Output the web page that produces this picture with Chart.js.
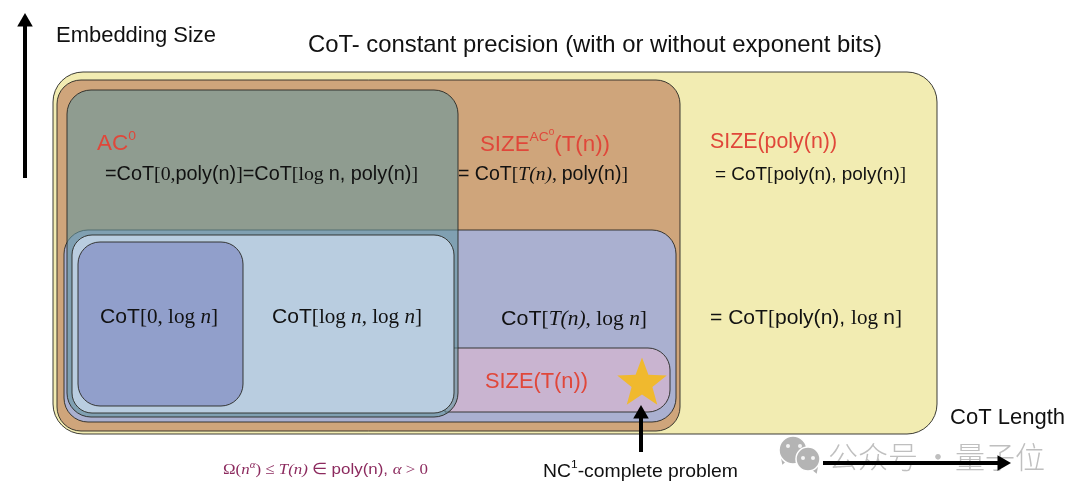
<!DOCTYPE html>
<html><head><meta charset="utf-8">
<script src="https://cdn.jsdelivr.net/npm/chart.js@4"></script>
<style>html,body{margin:0;padding:0;background:#fff}canvas{display:block}</style>
</head><body><canvas id="c" width="1080" height="499"></canvas>
<script>
// Regions (drawn back to front): left, top, right, bottom
const regionNames  = ['SIZE(poly(n))','SIZE^AC0(T(n))','CoT[T(n),log n]','SIZE(T(n))','AC0','CoT[log n,log n]','CoT[0,log n]'];
const regionLeft   = [53, 57, 64, 445, 67, 72, 78];
const regionTop    = [72, 80, 230, 348, 90, 235, 242];
const regionRight  = [937, 680, 676, 670, 458, 454, 243];
const regionBottom = [434, 431, 422, 412, 417, 413, 406];
const regionRadius = [30, 24, 24, [0,22,22,0], 24, 20, 22];
const regionFill   = ['#f2ecb2','#cfa57b','#aab0d0','#c9b4d0','rgba(100,150,158,0.6)','#b9cde0','#919fcb'];

// Text labels: each run is [text, style]; s sans, r serif, i italic serif, u superscript sans
const labelRuns = [
  [['Embedding Size','s']],
  [['CoT- constant precision (with or without exponent bits)','s']],
  [['AC','s'],['0','u']],
  [['=CoT','s'],['[0,','r'],['poly(n)','s'],[']','r'],['=CoT','s'],['[log ','r'],['n, poly(n)','s'],[']','r']],
  [['SIZE','s'],['AC','u'],['0','v'],['(T(n))','s']],
  [['= CoT','s'],['[','r'],['T(n)','i'],[', ','r'],['poly(n)','s'],[']','r']],
  [['SIZE(poly(n))','s']],
  [['= CoT','s'],['[','r'],['poly(n), poly(n)','s'],[']','r']],
  [['CoT','s'],['[0, log ','r'],['n','i'],[']','r']],
  [['CoT','s'],['[log ','r'],['n','i'],[', log ','r'],['n','i'],[']','r']],
  [['CoT','s'],['[','r'],['T(n)','i'],[', log ','r'],['n','i'],[']','r']],
  [['= CoT','s'],['[','r'],['poly(n), ','s'],['log ','r'],['n','s'],[']','r']],
  [['SIZE(T(n))','s']],
  [['CoT Length','s']],
  [['NC','s'],['1','u'],['-complete problem','s']],
  [['Ω(','r'],['n','i'],['α','w'],[') ≤ ','r'],['T(n)','i'],[' ∈ ','r'],['poly(n), ','s'],['α','i'],[' > 0','r']]
];
const labelLeft  = [56,308,97,105,480,458,710,715,100,272,501,710,485,950,543,223];
const labelRight = [216,882,136,418,610,628,837,906,218,422,647,902,588,1065,738,428];
const labelBase  = [42,52,150,180,151,180,148,180,323,323,325,324,388,424,477,474];
const labelSize  = [22,24,22,19.5,22,19.5,21.5,19,21,21,21,21,22,22,19,15.5];
const labelColor = ['#111','#111','#e0473a','#111','#e0473a','#111','#e0473a','#111','#111','#111','#111','#111','#e0473a','#111','#111','#8c2a5e'];

const watermarkText = ['公众号','·','量子位'];
const watermarkX = [828,923,955];

// Arrows: tail then head
const arrowTailX = [25, 641, 823];
const arrowTailY = [178, 452, 463];
const arrowHeadX = [25, 641, 1002];
const arrowHeadY = [22, 414, 463];
const arrowAngle = [0, 0, 90];

const starX = [642]; const starY = [381];
// Watermark icon parts
const iconX = [793, 808]; const iconY = [450, 459]; const iconR = [14, 12];
const eyeX = [788, 800, 803, 813]; const eyeY = [446, 446, 458, 458];
const tailX = [784, 815]; const tailY = [460, 469];

function starCanvas(size,color){
  const cv=document.createElement('canvas');cv.width=cv.height=size;
  const g=cv.getContext('2d');g.fillStyle=color;g.beginPath();
  const R=size/2,r=R*0.42;
  for(let i=0;i<10;i++){const a=-Math.PI/2+i*Math.PI/5,q=i%2?r:R;
    g.lineTo(R+q*Math.cos(a),R+q*Math.sin(a)+R*0.1);}
  g.closePath();g.fill();return cv;
}

const fontFor=(k,sz)=>({
  s:`${sz}px "Liberation Sans"`,
  r:`${sz}px "Liberation Serif"`,
  i:`italic ${sz}px "Liberation Serif"`,
  u:`${sz*0.62}px "Liberation Sans"`,
  v:`${sz*0.45}px "Liberation Sans"`,
  w:`italic ${sz*0.65}px "Liberation Serif"`
}[k]);
const riseFor={s:0,r:0,i:0,u:0.45,v:0.72,w:0.4};

const regionPlugin={id:'regions',
  beforeDatasetDraw(chart,args){
    const ds=chart.data.datasets[args.index];
    if(ds.regionIndex===undefined)return;
    const i=ds.regionIndex,[a,b]=args.meta.data,ctx=chart.ctx;
    ctx.save();ctx.beginPath();
    ctx.roundRect(a.x,a.y,b.x-a.x,b.y-a.y,regionRadius[i]);
    ctx.fillStyle=regionFill[i];ctx.fill();
    ctx.lineWidth=1;ctx.strokeStyle='rgba(40,40,35,0.9)';ctx.stroke();
    ctx.restore();
  },
  beforeDatasetsDraw(chart){
    const ctx=chart.ctx,X=chart.scales.x,Y=chart.scales.y;
    ctx.save();ctx.fillStyle='#bfbfbf';ctx.textBaseline='alphabetic';
    ctx.font='300 30px "Noto Sans CJK SC"';
    watermarkText.forEach((t,i)=>{ctx.fillText(t,X.getPixelForValue(watermarkX[i]),Y.getPixelForValue(468));});
    ctx.restore();
  },
  afterDatasetsDraw(chart){
    const ctx=chart.ctx,X=chart.scales.x,Y=chart.scales.y;
    labelRuns.forEach((runs,i)=>{
      const sz=labelSize[i];let w=0;
      runs.forEach(([t,k])=>{ctx.font=fontFor(k,sz);w+=ctx.measureText(t).width;});
      const l=X.getPixelForValue(labelLeft[i]),r=X.getPixelForValue(labelRight[i]),b=Y.getPixelForValue(labelBase[i]);
      ctx.save();ctx.translate(l,b);ctx.scale((r-l)/w,1);
      ctx.fillStyle=labelColor[i];ctx.textBaseline='alphabetic';
      let x=0;
      runs.forEach(([t,k])=>{ctx.font=fontFor(k,sz);ctx.fillText(t,x,-riseFor[k]*sz);x+=ctx.measureText(t).width;});
      ctx.restore();
    });
  }
};

const datasets=[];
regionNames.forEach((n,i)=>datasets.push({label:n,regionIndex:i,order:100-i,
  data:[{x:regionLeft[i],y:regionTop[i]},{x:regionRight[i],y:regionBottom[i]}],
  pointRadius:0,showLine:false}));
datasets.push({label:'icon tails',order:52,data:tailX.map((x,i)=>({x,y:tailY[i]})),
  pointRadius:5,pointStyle:'triangle',pointRotation:[200,160],pointBackgroundColor:'#b4b4b4',pointBorderWidth:0,showLine:false});
datasets.push({label:'icon',order:51,data:iconX.map((x,i)=>({x,y:iconY[i]})),
  pointRadius:iconR,pointStyle:'circle',pointBackgroundColor:'#b4b4b4',pointBorderColor:'#fff',pointBorderWidth:1.5,showLine:false});
datasets.push({label:'icon eyes',order:50,data:eyeX.map((x,i)=>({x,y:eyeY[i]})),
  pointRadius:2,pointStyle:'circle',pointBackgroundColor:'#f4f4f4',pointBorderWidth:0,showLine:false});
datasets.push({label:'NC1-complete problem',order:10,data:starX.map((x,i)=>({x,y:starY[i]})),
  pointStyle:starCanvas(52,'#f0b92e'),showLine:false});
arrowTailX.forEach((x,i)=>datasets.push({label:'arrow'+i,order:5-i,
  data:[{x,y:arrowTailY[i]},{x:arrowHeadX[i],y:arrowHeadY[i]}],showLine:true,
  borderColor:'#000',borderWidth:4,pointRadius:[0,9],pointStyle:'triangle',pointRotation:arrowAngle[i],
  pointBackgroundColor:'#000',pointBorderColor:'#000',pointBorderWidth:0}));

new Chart(document.getElementById('c'),{
  type:'scatter',data:{datasets},plugins:[regionPlugin],
  options:{responsive:false,animation:false,devicePixelRatio:1,
    layout:{padding:0,autoPadding:false},
    plugins:{legend:{display:false},tooltip:{enabled:false},title:{display:false}},
    scales:{
      x:{type:'linear',min:0,max:1080,display:false},
      y:{type:'linear',min:0,max:499,reverse:true,display:false}
    }}
});
</script></body></html>
